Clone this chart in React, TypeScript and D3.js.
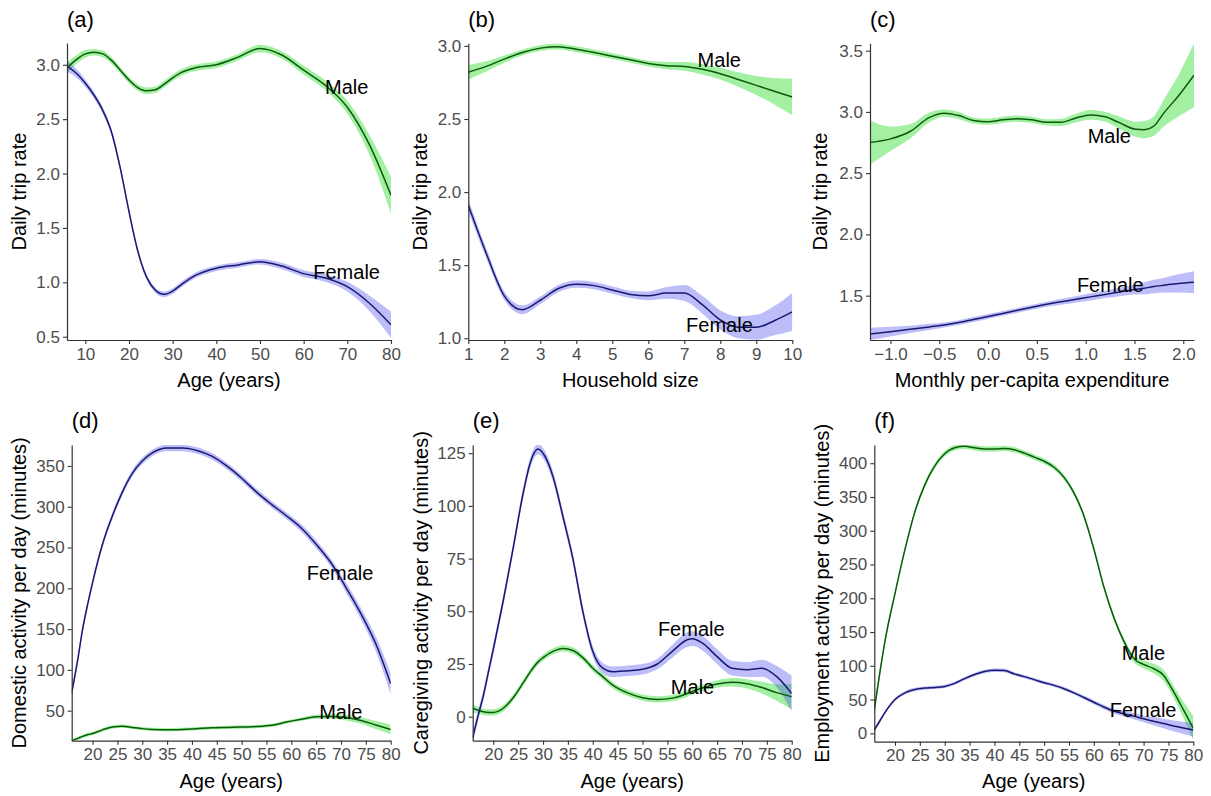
import { useEffect, useRef } from "react";
import * as d3 from "d3";

const W = 1211;
const H = 796;

// (a) daily trip rate by age
const ageA = [6, 8, 10, 12, 14, 16, 18, 20, 22, 24, 26, 28, 30, 32, 35, 40, 45, 50, 55, 60, 65, 70, 75, 80];
const maleA = [2.98, 3.05, 3.1, 3.115, 3.1, 3.04, 2.95, 2.86, 2.79, 2.76, 2.77, 2.82, 2.88, 2.93, 2.97, 3.0, 3.07, 3.15, 3.09, 2.95, 2.81, 2.61, 2.27, 1.8];
const maleSeA = [0.05, 0.04, 0.035, 0.03, 0.03, 0.03, 0.03, 0.03, 0.03, 0.03, 0.03, 0.03, 0.03, 0.03, 0.03, 0.03, 0.03, 0.035, 0.035, 0.04, 0.045, 0.06, 0.09, 0.17];
const femaleA = [2.98, 2.92, 2.83, 2.72, 2.58, 2.38, 2.05, 1.65, 1.29, 1.05, 0.93, 0.89, 0.92, 0.98, 1.06, 1.13, 1.16, 1.19, 1.15, 1.08, 1.04, 0.96, 0.81, 0.61];
const femaleSeA = [0.05, 0.04, 0.035, 0.03, 0.03, 0.03, 0.03, 0.03, 0.025, 0.025, 0.025, 0.025, 0.025, 0.025, 0.025, 0.025, 0.025, 0.025, 0.03, 0.03, 0.035, 0.045, 0.07, 0.12];
const xTicksA = [10, 20, 30, 40, 50, 60, 70, 80];
const yTicksA = [0.5, 1.0, 1.5, 2.0, 2.5, 3.0];

// (b) daily trip rate by household size
const sizeB = [1, 1.5, 2, 2.5, 3, 3.5, 4, 4.5, 5, 5.5, 6, 6.5, 7, 7.5, 8, 8.5, 9, 9.5, 10];
const maleB = [2.82, 2.86, 2.91, 2.955, 2.985, 2.995, 2.977, 2.955, 2.93, 2.905, 2.88, 2.865, 2.86, 2.84, 2.81, 2.77, 2.73, 2.69, 2.65];
const maleSeB = [0.05, 0.035, 0.025, 0.02, 0.02, 0.02, 0.02, 0.02, 0.02, 0.02, 0.02, 0.025, 0.03, 0.035, 0.04, 0.05, 0.065, 0.09, 0.125];
const femaleB = [1.91, 1.58, 1.29, 1.195, 1.26, 1.34, 1.37, 1.36, 1.33, 1.3, 1.29, 1.31, 1.31, 1.23, 1.125, 1.075, 1.075, 1.12, 1.18];
const femaleSeB = [0.04, 0.035, 0.03, 0.03, 0.025, 0.025, 0.025, 0.025, 0.025, 0.025, 0.03, 0.04, 0.055, 0.06, 0.065, 0.075, 0.085, 0.1, 0.13];
const xTicksB = [1, 2, 3, 4, 5, 6, 7, 8, 9, 10];
const yTicksB = [1.0, 1.5, 2.0, 2.5, 3.0];

// (c) daily trip rate by monthly per-capita expenditure
const expC = [-1.21, -1.0, -0.8, -0.6, -0.45, -0.3, -0.15, 0.0, 0.15, 0.3, 0.45, 0.6, 0.75, 0.9, 1.05, 1.2, 1.35, 1.5, 1.6, 1.7, 1.8, 1.95, 2.11];
const maleC = [2.75, 2.78, 2.84, 2.955, 2.99, 2.97, 2.93, 2.92, 2.935, 2.945, 2.935, 2.915, 2.915, 2.95, 2.975, 2.96, 2.91, 2.86, 2.855, 2.885, 2.99, 3.13, 3.3];
const maleSeC = [0.18, 0.1, 0.06, 0.04, 0.03, 0.03, 0.025, 0.025, 0.025, 0.025, 0.025, 0.025, 0.03, 0.035, 0.04, 0.04, 0.05, 0.06, 0.07, 0.08, 0.11, 0.17, 0.26];
const femaleC = [1.187, 1.206, 1.225, 1.245, 1.26, 1.28, 1.305, 1.33, 1.355, 1.38, 1.405, 1.43, 1.45, 1.47, 1.49, 1.51, 1.53, 1.55, 1.56, 1.575, 1.585, 1.6, 1.61];
const femaleSeC = [0.05, 0.04, 0.03, 0.025, 0.02, 0.02, 0.02, 0.02, 0.02, 0.02, 0.02, 0.02, 0.025, 0.025, 0.03, 0.03, 0.035, 0.04, 0.05, 0.055, 0.06, 0.075, 0.09];
const xTicksC = [-1.0, -0.5, 0.0, 0.5, 1.0, 1.5, 2.0];
const yTicksC = [1.5, 2.0, 2.5, 3.0, 3.5];

// (d) domestic activity minutes by age
const ageD = [15.8, 17, 18, 19, 20, 22, 24, 26, 28, 30, 32, 35, 38, 41, 44, 47, 50, 53, 56, 59, 62, 65, 68, 71, 74, 77, 80];
const femaleD = [72, 112, 150, 180, 207, 254, 289, 318, 341, 356, 366, 372, 372, 369, 362, 350, 335, 318, 303, 289, 274, 254, 231, 201, 169, 132, 83];
const femaleSeD = [6, 5, 4.5, 4, 4, 4, 4, 4, 4, 4, 4, 4, 4, 4, 4, 4, 4, 4, 4, 4, 4.5, 5, 5, 6, 7, 9, 13];
const maleD = [13, 16, 18.5, 20.5, 22, 26.5, 30, 31, 29.5, 28, 27, 26.5, 27, 28, 29, 29.5, 30, 30.5, 32, 36, 39.5, 42.5, 43, 41.5, 38, 32.5, 27];
const maleSeD = [2.5, 2, 2, 2, 2, 2, 2, 2, 2, 2, 2, 2, 2, 2, 2, 2, 2, 2, 2, 2, 2, 2.5, 3, 3.5, 4, 5, 6];
const xTicksAge = [20, 25, 30, 35, 40, 45, 50, 55, 60, 65, 70, 75, 80];
const yTicksD = [50, 100, 150, 200, 250, 300, 350];

// (e) caregiving activity minutes by age
const ageE = [15.85, 17, 18, 19, 20, 22, 24, 26, 27.5, 29, 30, 32, 34, 36, 38, 40, 42, 44, 47, 50, 53, 56, 59, 60, 62, 65, 68, 71, 74, 77, 80];
const femaleE = [-10, 1, 10, 21, 32, 55, 80, 106, 121, 127, 125, 114, 95, 75, 50, 31, 23, 21.3, 21.8, 22.5, 25, 31, 36.5, 37, 35, 28.5, 23, 22.3, 23, 19, 11];
const femaleSeE = [3, 2.5, 2.5, 2.5, 2.5, 2.5, 2.5, 2.5, 2.5, 2.5, 2.5, 2.5, 2.5, 2.5, 2.5, 2.5, 2.5, 2.5, 2.5, 2.5, 2.5, 3, 3.5, 3.5, 3.5, 3.5, 3.5, 3.5, 4, 5, 8.5];
const maleE = [4, 3, 2.3, 2, 2, 4, 9, 16, 21.5, 26, 28, 31, 32.4, 31.4, 28, 23, 19, 15, 11.3, 9, 8.2, 8.8, 11, 12, 13.6, 15.5, 16.3, 15.6, 13.8, 11.4, 9.5];
const maleSeE = [2, 1.5, 1.5, 1.5, 1.5, 1.5, 1.5, 1.5, 1.5, 1.5, 1.5, 1.5, 1.5, 1.5, 1.5, 1.5, 1.5, 1.5, 1.5, 1.5, 1.5, 1.5, 1.5, 1.5, 1.5, 1.8, 2, 2.2, 2.8, 4, 6];
const yTicksE = [0, 25, 50, 75, 100, 125];

// (f) employment activity minutes by age
const ageF = [15.84, 17, 18, 20, 22, 24, 26, 28, 30, 32, 34, 36, 38, 40, 42, 44, 46, 48, 50, 52, 54, 56, 58, 60, 62, 64, 66, 68, 70, 72, 74, 76, 78, 80];
const maleF = [35, 92, 137, 207, 272, 328, 368, 396, 414, 423, 425, 423, 421, 421, 422, 420, 415, 409, 403, 394, 379, 356, 322, 273, 217, 172, 137, 111, 102, 96, 86, 62, 35, 7.5];
const maleSeF = [8, 6, 5, 4, 4, 4, 4, 4, 4, 4, 4, 4, 4, 4, 4, 4, 4, 4, 4, 4, 4, 4, 4, 4, 4, 4, 4.5, 5, 6, 7, 8, 9, 12, 18];
const femaleF = [5, 19, 31, 50, 60, 65, 67, 68, 69.5, 74, 81, 87, 91.5, 93.5, 93, 88, 84, 79.5, 75, 71, 66, 60, 53, 46, 39, 33, 29, 25.5, 21.5, 18, 14.5, 11, 8, 5];
const femaleSeF = [3, 3, 2.5, 2.5, 2.5, 2.5, 2.5, 2.5, 2.5, 2.5, 2.5, 2.5, 2.5, 2.5, 2.5, 2.5, 2.5, 2.5, 2.5, 2.5, 2.5, 2.5, 3, 3, 3.5, 3.5, 4, 4.5, 5, 6, 7, 8, 9, 10];
const yTicksF = [0, 50, 100, 150, 200, 250, 300, 350, 400];

const MALE_FILL = "#33dd33";
const MALE_LINE = "#0a5a0a";
const FEMALE_FILL = "#3333ee";
const FEMALE_LINE = "#191970";
const FONT = "'Liberation Sans', Arial, sans-serif";

interface Panel {
  tag: string;
  x: number[];
  male: number[];
  maleSe: number[];
  female: number[];
  femaleSe: number[];
  rect: [number, number, number, number];
  xDomain: [number, number];
  yDomain: [number, number];
  xTicks: number[];
  yTicks: number[];
  xFmt: (d: number) => string;
  yFmt: (d: number) => string;
  xTitle: string;
  yTitle: string;
  titleX: number;
  maleLabel: [number, number];
  femaleLabel: [number, number];
}

const f1 = d3.format(".1f");
const f0 = d3.format("d");

const panels: Panel[] = [
  {
    tag: "(a)", x: ageA, male: maleA, maleSe: maleSeA, female: femaleA, femaleSe: femaleSeA,
    rect: [67, 43, 391, 340], xDomain: [5.8, 80], yDomain: [0.47, 3.2],
    xTicks: xTicksA, yTicks: yTicksA, xFmt: f0, yFmt: f1,
    xTitle: "Age (years)", yTitle: "Daily trip rate", titleX: 19,
    maleLabel: [64.9, 2.73], femaleLabel: [62.2, 1.03],
  },
  {
    tag: "(b)", x: sizeB, male: maleB, maleSe: maleSeB, female: femaleB, femaleSe: femaleSeB,
    rect: [468.3, 43.3, 792.3, 340], xDomain: [1, 10], yDomain: [0.988, 3.018],
    xTicks: xTicksB, yTicks: yTicksB, xFmt: f0, yFmt: f1,
    xTitle: "Household size", yTitle: "Daily trip rate", titleX: 420,
    maleLabel: [7.37, 2.856], femaleLabel: [7.05, 1.046],
  },
  {
    tag: "(c)", x: expC, male: maleC, maleSe: maleSeC, female: femaleC, femaleSe: femaleSeC,
    rect: [870, 43.3, 1194, 340], xDomain: [-1.21, 2.11], yDomain: [1.138, 3.56],
    xTicks: xTicksC, yTicks: yTicksC, xFmt: f1, yFmt: f1,
    xTitle: "Monthly per-capita expenditure", yTitle: "Daily trip rate", titleX: 820,
    maleLabel: [1.02, 2.747], femaleLabel: [0.91, 1.533],
  },
  {
    tag: "(d)", x: ageD, male: maleD, maleSe: maleSeD, female: femaleD, femaleSe: femaleSeD,
    rect: [71.7, 445, 390.7, 740.7], xDomain: [15.8, 80], yDomain: [13.2, 375.7],
    xTicks: xTicksAge, yTicks: yTicksD, xFmt: f0, yFmt: f0,
    xTitle: "Age (years)", yTitle: "Domestic activity per day (minutes)", titleX: 19,
    maleLabel: [65.6, 39.4], femaleLabel: [63.1, 210.2],
  },
  {
    tag: "(e)", x: ageE, male: maleE, maleSe: maleSeE, female: femaleE, femaleSe: femaleSeE,
    rect: [472.7, 445, 791.7, 740.7], xDomain: [15.86, 80], yDomain: [-11.4, 128.9],
    xTicks: xTicksAge, yTicks: yTicksE, xFmt: f0, yFmt: f0,
    xTitle: "Age (years)", yTitle: "Caregiving activity per day (minutes)", titleX: 421,
    maleLabel: [55.7, 10.8], femaleLabel: [53.1, 38.3],
  },
  {
    tag: "(f)", x: ageF, male: maleF, maleSe: maleSeF, female: femaleF, femaleSe: femaleSeF,
    rect: [874.3, 445, 1193.3, 741.7], xDomain: [15.84, 80], yDomain: [-12.4, 427],
    xTicks: xTicksAge, yTicks: yTicksF, xFmt: f0, yFmt: f0,
    xTitle: "Age (years)", yTitle: "Employment activity per day (minutes)", titleX: 822,
    maleLabel: [65.6, 108.6], femaleLabel: [63.2, 24.6],
  },
];

export default function App() {
  const svgRef = useRef<SVGSVGElement | null>(null);

  useEffect(() => {
    const svg = d3.select(svgRef.current);
    svg.selectAll("*").remove();
    svg.append("rect").attr("width", W).attr("height", H).attr("fill", "#fff");

    panels.forEach((p, i) => {
      const [l, t, r, b] = p.rect;
      const x = d3.scaleLinear().domain(p.xDomain).range([l, r]);
      const y = d3.scaleLinear().domain(p.yDomain).range([b, t]);

      const clipId = `panel-clip-${i}`;
      svg.append("clipPath").attr("id", clipId)
        .append("rect").attr("x", l).attr("y", t).attr("width", r - l).attr("height", b - t);

      const g = svg.append("g").attr("clip-path", `url(#${clipId})`);

      const series = [
        { mean: p.male, se: p.maleSe, fill: MALE_FILL, op: 0.45, stroke: MALE_LINE },
        { mean: p.female, se: p.femaleSe, fill: FEMALE_FILL, op: 0.32, stroke: FEMALE_LINE },
      ];

      series.forEach(s => {
        const area = d3.area<number>()
          .x((_, j) => x(p.x[j]))
          .y0((d, j) => y(d - s.se[j]))
          .y1((d, j) => y(d + s.se[j]))
          .curve(d3.curveMonotoneX);
        g.append("path").datum(s.mean)
          .attr("d", area)
          .attr("fill", s.fill)
          .attr("fill-opacity", s.op);
      });

      series.forEach(s => {
        const line = d3.line<number>()
          .x((_, j) => x(p.x[j]))
          .y(d => y(d))
          .curve(d3.curveMonotoneX);
        g.append("path").datum(s.mean)
          .attr("d", line)
          .attr("fill", "none")
          .attr("stroke", s.stroke)
          .attr("stroke-width", 1.5);
      });

      // axes
      const xAxis = svg.append("g")
        .attr("transform", `translate(0,${b})`)
        .call(d3.axisBottom(x).tickValues(p.xTicks).tickFormat(p.xFmt as any).tickSize(4).tickSizeOuter(0).tickPadding(3.5));
      const yAxis = svg.append("g")
        .attr("transform", `translate(${l},0)`)
        .call(d3.axisLeft(y).tickValues(p.yTicks).tickFormat(p.yFmt as any).tickSize(4).tickSizeOuter(0).tickPadding(3));

      [xAxis, yAxis].forEach(ax => {
        ax.select(".domain").attr("stroke", "#333").attr("stroke-width", 1.2);
        ax.selectAll(".tick line").attr("stroke", "#333").attr("stroke-width", 1.1);
        ax.selectAll(".tick text")
          .attr("fill", "#4d4d4d")
          .style("font-size", "17px")
          .style("font-family", FONT);
      });

      // titles
      svg.append("text")
        .attr("x", (l + r) / 2)
        .attr("y", i < 3 ? 387 : 788)
        .attr("text-anchor", "middle")
        .style("font-size", "20px")
        .style("font-family", FONT)
        .attr("fill", "#000")
        .text(p.xTitle);

      svg.append("text")
        .attr("transform", `translate(${p.titleX},${(t + b) / 2}) rotate(-90)`)
        .attr("text-anchor", "middle")
        .attr("dy", "0.35em")
        .style("font-size", "20px")
        .style("font-family", FONT)
        .attr("fill", "#000")
        .text(p.yTitle);

      svg.append("text")
        .attr("x", l)
        .attr("y", i < 3 ? 27 : 428)
        .style("font-size", "22px")
        .style("font-family", FONT)
        .attr("fill", "#000")
        .text(p.tag);

      // series labels
      [["Male", p.maleLabel], ["Female", p.femaleLabel]].forEach(([txt, pos]) => {
        const [lx, ly] = pos as [number, number];
        svg.append("text")
          .attr("x", x(lx))
          .attr("y", y(ly))
          .style("font-size", "20px")
          .style("font-family", FONT)
          .attr("fill", "#000")
          .text(txt as string);
      });
    });
  }, []);

  return (
    <svg
      ref={svgRef}
      width={W}
      height={H}
      style={{ position: "absolute", left: 0, top: 0, display: "block" }}
    />
  );
}
